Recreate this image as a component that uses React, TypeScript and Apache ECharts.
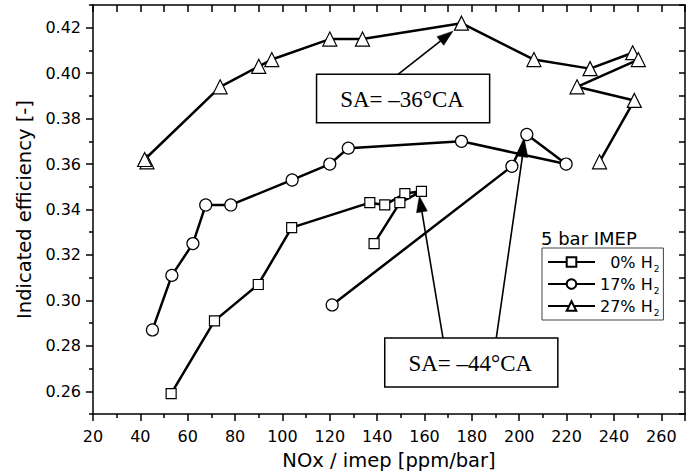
import React, { useEffect, useRef } from 'react';
import * as echarts from 'echarts';

// ---- data ----
const seriesNames = ['0% H2', '17% H2', '27% H2'];
const legendLabels = ['\u20070% H{sub|2}', '17% H{sub|2}', '27% H{sub|2}'];

const h2_0_x = [53.0, 71.3, 89.8, 103.9, 136.9, 143.2, 151.7, 158.7, 149.6, 138.7];
const h2_0_y = [0.259, 0.291, 0.307, 0.332, 0.343, 0.342, 0.347, 0.348, 0.343, 0.325];

const h2_17_x = [45.1, 53.3, 62.2, 67.6, 78.2, 104.1, 120.0, 127.8, 175.6, 219.8, 203.2, 196.9, 121.0];
const h2_17_y = [0.287, 0.311, 0.325, 0.342, 0.342, 0.353, 0.360, 0.367, 0.370, 0.360, 0.373, 0.359, 0.298];

const h2_27_x = [42.8, 41.8, 73.7, 90.0, 95.5, 120.0, 133.8, 175.6, 206.2, 229.9, 247.9, 250.3, 224.4, 248.6, 233.9];
const h2_27_y = [0.361, 0.362, 0.394, 0.403, 0.406, 0.415, 0.415, 0.422, 0.406, 0.402, 0.409, 0.406, 0.394, 0.388, 0.361];

const yMajorTicks = [0.26, 0.28, 0.30, 0.32, 0.34, 0.36, 0.38, 0.40, 0.42];
const yMinorTicks = [0.25, 0.27, 0.29, 0.31, 0.33, 0.35, 0.37, 0.39, 0.41, 0.43];

// annotations, in data coordinates
const annotationTexts = ['SA= \u201336\u00B0CA', 'SA= \u201344\u00B0CA'];
const annotationBoxes = [
  [114.4, 0.3995, 187.5, 0.3782],
  [143.2, 0.2834, 216.3, 0.2619],
];
const annotationArrows = [
  [148.8, 0.3995, 172.0, 0.4185],
  [167.8, 0.2834, 157.8, 0.3459],
  [190.3, 0.2834, 202.3, 0.3702],
];

const SANS = 'DejaVu Sans';
const SERIF = 'Liberation Serif';

function pairs(xs: number[], ys: number[]) {
  return xs.map((x, i) => [x, ys[i]]);
}

export default function App() {
  const ref = useRef<HTMLDivElement>(null);

  useEffect(() => {
    if (!ref.current) return;
    const chart = echarts.init(ref.current, null, { renderer: 'svg' });
    const axisLine = { show: true, lineStyle: { color: '#000', width: 1.5 } };
    const tickStyle = { color: '#000', width: 1.5 };
    const common = (name: string, symbol: string, size: number, data: number[][]) => ({
      name,
      type: 'line',
      data,
      symbol,
      symbolSize: size,
      showAllSymbol: true,
      xAxisIndex: 0,
      yAxisIndex: 0,
      itemStyle: { color: '#fff', borderColor: '#000', borderWidth: 1.2 },
      lineStyle: { color: '#000', width: 2.5 },
      emphasis: { disabled: true },
      z: 3,
    });

    const option: any = {
      animation: false,
      backgroundColor: '#fff',
      title: {
        text: '5 bar IMEP',
        left: 541,
        top: 229,
        padding: 0,
        textStyle: { fontFamily: SANS, fontSize: 18, fontWeight: 'normal', color: '#000' },
      },
      legend: {
        orient: 'vertical',
        left: 542,
        top: 248,
        padding: [3, 4, 3, 5],
        itemGap: 0,
        itemWidth: 47,
        itemHeight: 12,
        borderColor: '#444',
        borderWidth: 1,
        borderRadius: 0,
        data: seriesNames,
        selectedMode: false,
        formatter: (name: string) => legendLabels[seriesNames.indexOf(name)],
        textStyle: {
          fontFamily: SANS,
          fontSize: 16,
          color: '#000',
          lineHeight: 22,
          rich: {
            sub: { fontFamily: SANS, fontSize: 9, color: '#000', verticalAlign: 'top', lineHeight: 9, padding: [13, 0, 0, 1] },
          },
        },
      },
      grid: { left: 93, right: 7, top: 5, bottom: 60 },
      xAxis: [
        {
          type: 'value',
          position: 'bottom',
          min: 20,
          max: 270,
          interval: 20,
          name: 'NOx / imep [ppm/bar]',
          nameLocation: 'middle',
          nameGap: 36,
          nameTextStyle: { fontFamily: SANS, fontSize: 19.5, color: '#000' },
          axisLine,
          axisTick: { show: true, length: 7, lineStyle: tickStyle },
          minorTick: { show: true, splitNumber: 2, length: 4, lineStyle: tickStyle },
          axisLabel: { fontFamily: SANS, fontSize: 16, color: '#000', margin: 14 },
          splitLine: { show: false },
          minorSplitLine: { show: false },
        },
        {
          type: 'value',
          position: 'top',
          min: 20,
          max: 270,
          interval: 10,
          axisLine,
          axisTick: { show: true, inside: true, length: 7, lineStyle: tickStyle },
          axisLabel: { show: false },
          splitLine: { show: false },
        },
      ],
      yAxis: [
        {
          type: 'value',
          position: 'left',
          min: 0.25,
          max: 0.43,
          name: 'Indicated efficiency [-]',
          nameLocation: 'middle',
          nameGap: 58,
          nameTextStyle: { fontFamily: SANS, fontSize: 19.5, color: '#000' },
          axisLine,
          axisTick: { show: true, length: 7, lineStyle: tickStyle, customValues: yMajorTicks },
          axisLabel: {
            fontFamily: SANS,
            fontSize: 16,
            color: '#000',
            margin: 12,
            customValues: yMajorTicks,
            formatter: (v: number) => v.toFixed(2),
          },
          splitLine: { show: false },
        },
        {
          type: 'value',
          position: 'left',
          min: 0.25,
          max: 0.43,
          axisLine: { show: false },
          axisTick: { show: true, length: 4, lineStyle: tickStyle, customValues: yMinorTicks },
          axisLabel: { show: false },
          splitLine: { show: false },
        },
        {
          type: 'value',
          position: 'right',
          min: 0.25,
          max: 0.43,
          interval: 0.01,
          axisLine,
          axisTick: { show: true, inside: true, length: 6, lineStyle: tickStyle },
          axisLabel: { show: false },
          splitLine: { show: false },
        },
      ],
      series: [
        common(seriesNames[0], 'rect', 10, pairs(h2_0_x, h2_0_y)),
        common(seriesNames[1], 'circle', 12, pairs(h2_17_x, h2_17_y)),
        common(seriesNames[2], 'triangle', 14, pairs(h2_27_x, h2_27_y)),
      ],
    };
    chart.setOption(option);

    // annotations: boxes, texts and arrows placed through the grid's scales
    const px = (x: number, y: number) =>
      chart.convertToPixel({ xAxisIndex: 0, yAxisIndex: 0 }, [x, y]) as number[];
    const graphics: any[] = [];
    annotationBoxes.forEach((b, i) => {
      const p1 = px(b[0], b[1]);
      const p2 = px(b[2], b[3]);
      graphics.push({
        type: 'rect',
        z: 100,
        shape: { x: p1[0], y: p1[1], width: p2[0] - p1[0], height: p2[1] - p1[1] },
        style: { fill: '#fff', stroke: '#000', lineWidth: 1.5 },
      });
      graphics.push({
        type: 'text',
        z: 101,
        style: {
          text: annotationTexts[i],
          x: (p1[0] + p2[0]) / 2 - 1,
          y: (p1[1] + p2[1]) / 2 + 1,
          align: 'center',
          verticalAlign: 'middle',
          textAlign: 'center',
          textVerticalAlign: 'middle',
          fontFamily: SERIF,
          fontSize: 23,
          fill: '#000',
        },
      });
    });
    const headLen = 16;
    const headW = 11;
    annotationArrows.forEach((a) => {
      const s = px(a[0], a[1]);
      const t = px(a[2], a[3]);
      const dx = t[0] - s[0];
      const dy = t[1] - s[1];
      const len = Math.sqrt(dx * dx + dy * dy);
      const ux = dx / len;
      const uy = dy / len;
      const bx = t[0] - ux * headLen;
      const by = t[1] - uy * headLen;
      const nx = -uy * (headW / 2);
      const ny = ux * (headW / 2);
      graphics.push({
        type: 'line',
        z: 99,
        shape: { x1: s[0], y1: s[1], x2: bx + ux * 2, y2: by + uy * 2 },
        style: { stroke: '#000', lineWidth: 1.6 },
      });
      graphics.push({
        type: 'polygon',
        z: 99,
        shape: { points: [[t[0], t[1]], [bx + nx, by + ny], [bx - nx, by - ny]] },
        style: { fill: '#000', stroke: '#000', lineWidth: 0.5 },
      });
    });
    chart.setOption({ graphic: graphics });

    return () => chart.dispose();
  }, []);

  return (
    <div
      ref={ref}
      style={{ position: 'absolute', left: 0, top: 0, width: 692, height: 475, background: '#fff' }}
    />
  );
}
